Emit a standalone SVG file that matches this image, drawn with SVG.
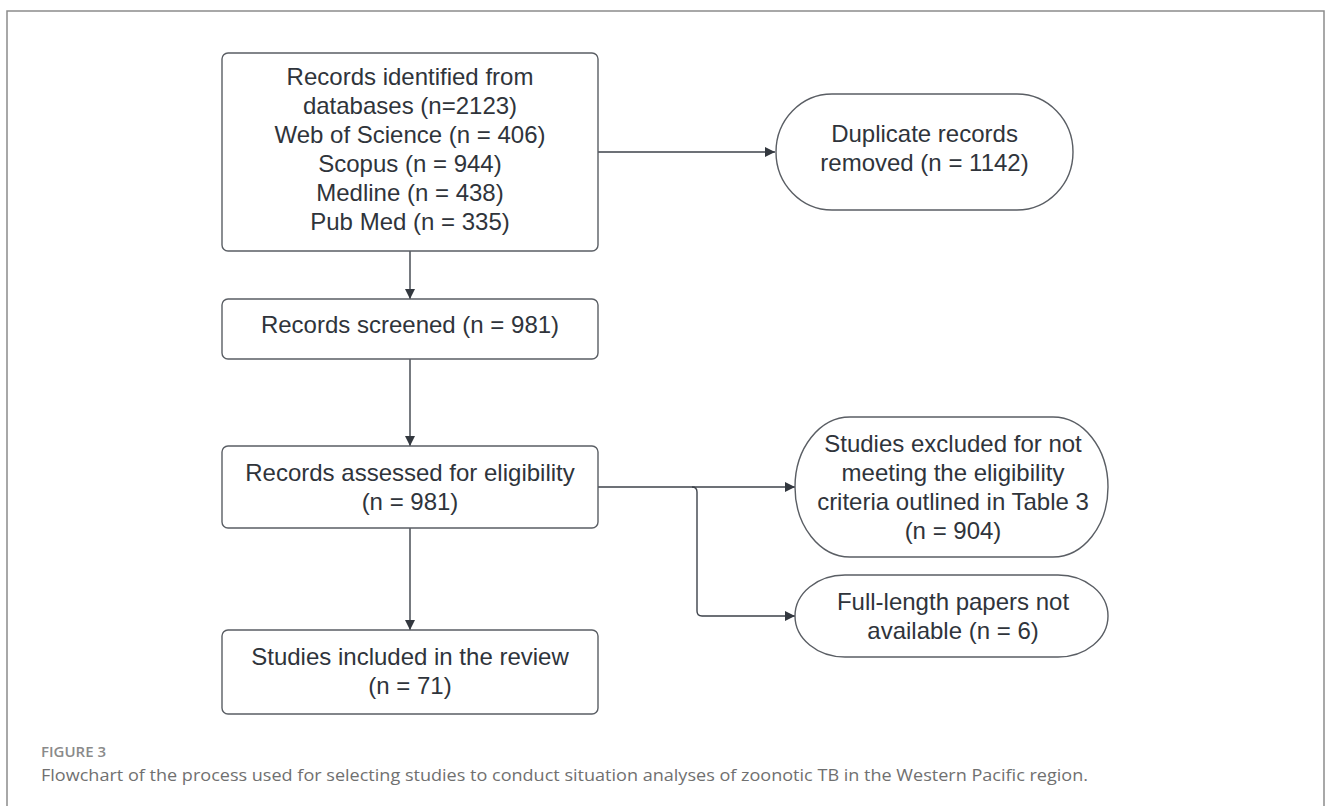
<svg xmlns="http://www.w3.org/2000/svg" width="1330" height="806" viewBox="0 0 1330 806">
<defs>
<style>
.box{fill:#fff;stroke:#5a5e64;stroke-width:1.4}
.t{font-family:"Liberation Sans",Arial,sans-serif;font-size:24px;fill:#2f343b;text-anchor:middle}
.c{fill:none;stroke:#3d424a;stroke-width:1.4}
.cap1{font-family:"Open Sans","Liberation Sans",sans-serif;font-size:15px;font-weight:600;fill:#8a8a8a}
.cap2{font-family:"Open Sans","Liberation Sans",sans-serif;font-size:17px;fill:#707070}
</style>
<marker id="ah" viewBox="0 0 10 10" refX="10" refY="5" markerWidth="10" markerHeight="10" markerUnits="userSpaceOnUse" orient="auto">
<path d="M0,0 L10,5 L0,10 z" fill="#33383f"/>
</marker>
</defs>
<rect width="1330" height="806" fill="#fff"/>
<path d="M7,806 V11 H1324 V806" fill="none" stroke="#8c8c8c" stroke-width="1.5"/>

<g id="connectors">
<path class="c" d="M598,152 H775" marker-end="url(#ah)"/>
<path class="c" d="M410,251 V299" marker-end="url(#ah)"/>
<path class="c" d="M410,359 V446" marker-end="url(#ah)"/>
<path class="c" d="M597,487 H795" marker-end="url(#ah)"/>
<path class="c" d="M692,487 Q697,487 697,492 V611 Q697,616 702,616 H795" marker-end="url(#ah)"/>
<path class="c" d="M410,528 V630" marker-end="url(#ah)"/>
</g>

<g id="n1">
<rect class="box" x="222" y="53" width="376" height="198" rx="6"/>
<text class="t" x="410" y="85">Records identified from</text>
<text class="t" x="410" y="114">databases (n=2123)</text>
<text class="t" x="410" y="143">Web of Science (n = 406)</text>
<text class="t" x="410" y="172">Scopus (n = 944)</text>
<text class="t" x="410" y="201">Medline (n = 438)</text>
<text class="t" x="410" y="230">Pub Med (n = 335)</text>
</g>

<g id="n2">
<rect class="box" x="776" y="94" width="297" height="116" rx="56" ry="58"/>
<text class="t" x="924.5" y="142">Duplicate records</text>
<text class="t" x="924.5" y="171">removed (n = 1142)</text>
</g>

<g id="n3">
<rect class="box" x="222" y="299" width="376" height="60" rx="6"/>
<text class="t" x="410" y="333">Records screened (n = 981)</text>
</g>

<g id="n4">
<rect class="box" x="222" y="446" width="376" height="82" rx="6"/>
<text class="t" x="410" y="481">Records assessed for eligibility</text>
<text class="t" x="410" y="510">(n = 981)</text>
</g>

<g id="n5">
<rect class="box" x="795" y="417" width="313" height="140" rx="55" ry="70"/>
<text class="t" x="953" y="452">Studies excluded for not</text>
<text class="t" x="953" y="481">meeting the eligibility</text>
<text class="t" x="953" y="510">criteria outlined in Table 3</text>
<text class="t" x="953" y="539">(n = 904)</text>
</g>

<g id="n6">
<rect class="box" x="795" y="575" width="313" height="82" rx="50" ry="41"/>
<text class="t" x="953" y="610">Full-length papers not</text>
<text class="t" x="953" y="639">available (n = 6)</text>
</g>

<g id="n7">
<rect class="box" x="222" y="630" width="376" height="84" rx="6"/>
<text class="t" x="410" y="665">Studies included in the review</text>
<text class="t" x="410" y="694">(n = 71)</text>
</g>

<g id="caption">
<text class="cap1" x="41" y="757">FIGURE 3</text>
<text class="cap2" x="41" y="781" textLength="1047" lengthAdjust="spacingAndGlyphs">Flowchart of the process used for selecting studies to conduct situation analyses of zoonotic TB in the Western Pacific region.</text>
</g>
</svg>
